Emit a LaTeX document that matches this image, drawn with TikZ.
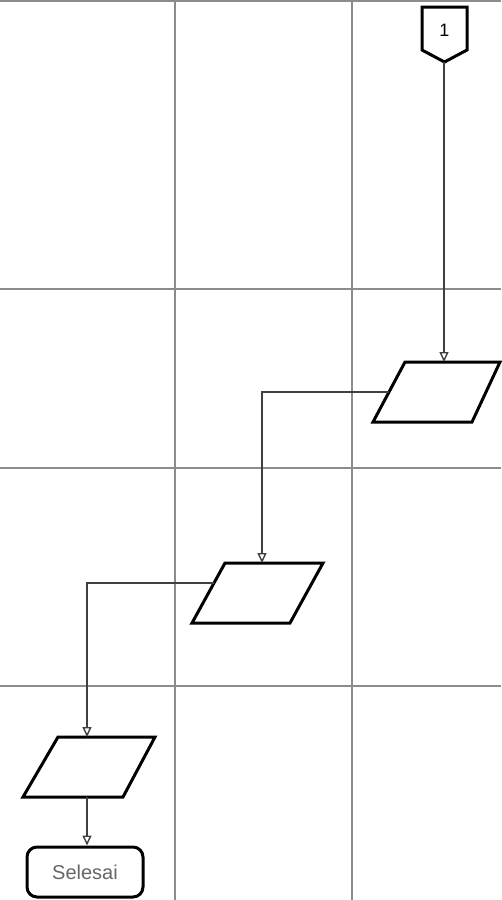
\documentclass[tikz,border=0pt]{standalone}
\usepackage{fontspec}
\setmainfont{Liberation Sans}
\usetikzlibrary{arrows.meta}
\begin{document}
\begin{tikzpicture}[x=1pt,y=-1pt,
  gridline/.style={draw=black!45, line width=1.1pt},
  shapeline/.style={draw=black, line width=3pt, line join=miter, fill=white},
  conn/.style={draw=black!75, line width=1.1pt, -{Triangle[open,length=10pt,width=9pt,line width=1.4pt]}}]
\useasboundingbox (0,0) rectangle (501,900);
\fill[white] (0,0) rectangle (501,900);
% grid
\draw[gridline] (0,1) -- (501,1);
\draw[gridline] (175,0) -- (175,900);
\draw[gridline] (352,0) -- (352,900);
\draw[gridline] (0,289) -- (501,289);
\draw[gridline] (0,468) -- (501,468);
\draw[gridline] (0,686) -- (501,686);
% off-page connector 1
\draw[shapeline] (422,7) -- (467,7) -- (467,50) -- (444.5,62) -- (422,50) -- cycle;
\node[inner sep=0pt, font=\fontsize{18}{18}\selectfont] (c1) at (444.5,30) {1};
\coordinate (c1s) at (444,62);
% parallelogram 1
\draw[shapeline] (405,362) -- (500,362) -- (472,422) -- (373,422) -- cycle;
\coordinate (p1n) at (444,362);
\coordinate (p1w) at (389,392);
% parallelogram 2
\draw[shapeline] (225,563) -- (323,563) -- (290,623) -- (192,623) -- cycle;
\coordinate (p2n) at (262,563);
\coordinate (p2w) at (214,583);
% parallelogram 3
\draw[shapeline] (58,737) -- (155,737) -- (123,797) -- (23,797) -- cycle;
\coordinate (p3n) at (87,737);
\coordinate (p3s) at (87,797);
% terminator
\node[shapeline, rounded corners=10pt, minimum width=116pt, minimum height=50pt, inner sep=0pt,
      text=black!60, font=\fontsize{20}{20}\selectfont] (sel) at (85,872) {Selesai};
% connectors
\draw[conn] (c1s) -- (p1n);
\draw[conn] (p1w) -| (p2n);
\draw[conn] (p2w) -| (p3n);
\draw[conn] (p3s) -- (p3s |- sel.north);
\end{tikzpicture}
\end{document}
